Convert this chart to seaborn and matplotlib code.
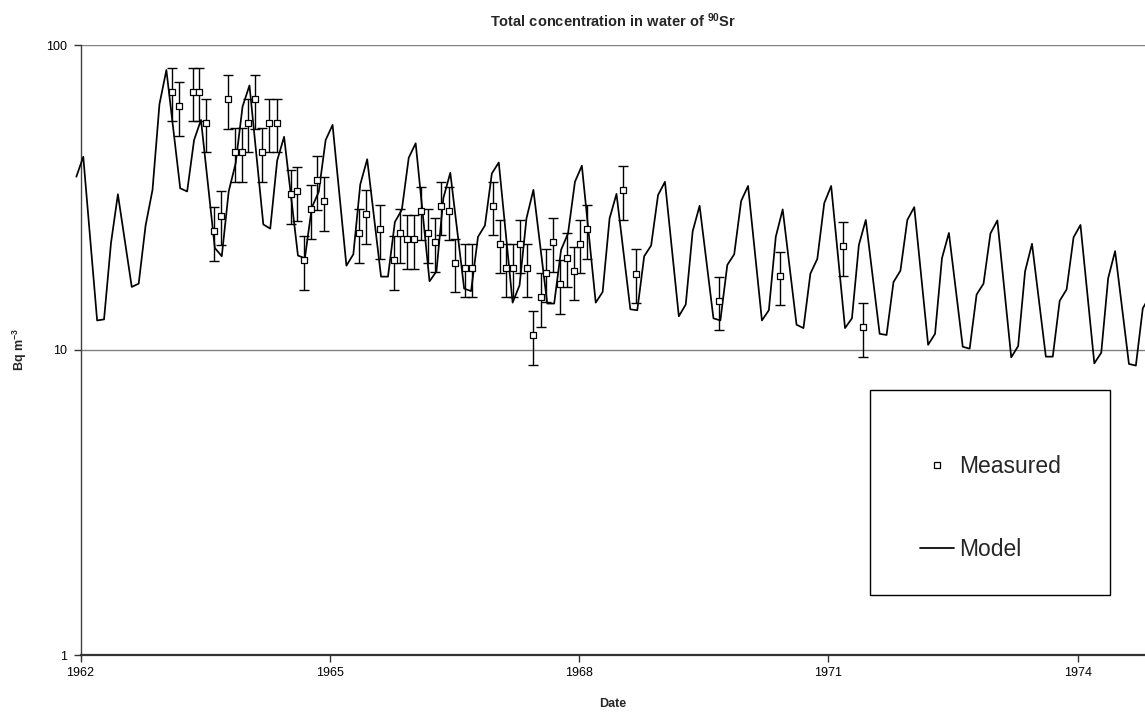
import numpy as np
import pandas as pd
import matplotlib
matplotlib.use("Agg")
import matplotlib.pyplot as plt
import seaborn as sns
from matplotlib.lines import Line2D
from matplotlib.patches import Rectangle
from matplotlib.ticker import NullLocator, FixedLocator, FixedFormatter

# ---------------- data ----------------
title_text = r"Total concentration in water of $\mathbf{^{90}}$Sr"
x_label = "Date"
y_label = r"Bq m$\mathbf{^{-3}}$"
x_ticks = [1962, 1965, 1968, 1971, 1974]
y_ticks = [1, 10, 100]
y_tick_labels = ["1", "10", "100"]
legend_labels = ["Measured", "Model"]

# model output months (Feb and Jul are not plotted)
model_years = list(range(1962, 1975))
model_month_numbers = [1, 3, 4, 5, 6, 8, 9, 10, 11, 12]
model_values = [
    37.0,                                                          # 1961-12
    43.0, 12.5, 12.6, 22.4, 32.4, 16.1, 16.5, 25.6, 33.5, 63.9,   # 1962
    82.8, 33.9, 33.1, 48.8, 56.8, 21.6, 20.3, 33.1, 40.9, 62.8,   # 1963
    73.7, 25.8, 25.0, 41.8, 50.0, 20.4, 20.0, 29.3, 33.0, 48.8,   # 1964
    54.7, 18.9, 20.6, 34.9, 42.2, 17.4, 17.4, 26.3, 28.8, 42.7,   # 1965
    47.6, 16.8, 18.1, 31.5, 38.1, 15.9, 15.6, 23.5, 25.6, 37.9,   # 1966
    41.2, 14.3, 16.3, 27.0, 33.5, 14.2, 14.2, 21.3, 24.1, 35.6,   # 1967
    40.2, 14.3, 15.5, 27.0, 32.5, 13.6, 13.5, 20.3, 22.0, 32.2,   # 1968
    35.6, 12.9, 14.1, 24.5, 29.7, 12.7, 12.5, 19.0, 20.6, 30.8,   # 1969
    34.5, 12.5, 13.5, 23.5, 28.9, 12.1, 11.8, 17.8, 19.9, 30.3,   # 1970
    34.5, 11.8, 12.7, 22.1, 26.7, 11.3, 11.2, 16.7, 18.2, 26.7,   # 1971
    29.4, 10.4, 11.3, 20.0, 24.2, 10.25, 10.1, 15.2, 16.5, 24.1,  # 1972
    26.6, 9.46, 10.3, 18.1, 22.3, 9.51, 9.51, 14.5, 15.8, 23.4,   # 1973
    25.7, 9.04, 9.8, 17.2, 21.1, 9.0, 8.89, 13.7, 15.0,           # 1974
]

meas_year = [
    1963.10, 1963.19, 1963.35, 1963.43, 1963.51, 1963.61, 1963.69, 1963.77,
    1963.86, 1963.94, 1964.02, 1964.10, 1964.18, 1964.27, 1964.37, 1964.53,
    1964.61, 1964.69, 1964.77, 1964.85, 1964.93, 1965.35, 1965.43, 1965.61,
    1965.77, 1965.85, 1965.93, 1966.01, 1966.10, 1966.18, 1966.27, 1966.34,
    1966.43, 1966.51, 1966.63, 1966.71, 1966.96, 1967.05, 1967.12, 1967.21,
    1967.29, 1967.37, 1967.45, 1967.54, 1967.60, 1967.69, 1967.77, 1967.85,
    1967.94, 1968.01, 1968.09, 1968.53, 1968.69, 1969.68, 1970.42, 1971.18,
    1971.42,
]
meas_value = [
    70.3, 63.1, 70.3, 70.3, 55.6, 24.5, 27.6, 66.5,
    44.5, 44.5, 55.6, 66.5, 44.5, 55.6, 55.6, 32.4,
    33.1, 19.7, 29.0, 36.1, 30.8, 24.1, 27.9, 24.9,
    19.7, 24.1, 23.1, 23.1, 28.6, 24.1, 22.6, 29.7,
    28.6, 19.3, 18.6, 18.6, 29.7, 22.3, 18.6, 18.6,
    22.3, 18.6, 11.2, 14.9, 17.9, 22.6, 16.4, 20.1,
    18.2, 22.3, 24.9, 33.4, 17.8, 14.5, 17.5, 21.9,
    11.9,
]
meas_rel_error = 0.2

# ---------------- build tables ----------------
model_dates = ["1961-12"] + [f"{y}-{m:02d}" for y in model_years for m in model_month_numbers]
model_dates = model_dates[:len(model_values)]
model_df = pd.DataFrame({"date": model_dates, "value": model_values})
model_df["t"] = [int(d[:4]) + (int(d[5:]) - 0.6) / 12.0 for d in model_df["date"]]

meas_df = pd.DataFrame({"t": meas_year, "value": meas_value})
meas_df["err"] = meas_df["value"] * meas_rel_error

# ---------------- style ----------------
sns.set_style("white")
plt.rcParams["font.family"] = ["Liberation Sans", "DejaVu Sans"]
plt.rcParams["mathtext.fontset"] = "custom"
plt.rcParams["mathtext.rm"] = "Liberation Sans"
plt.rcParams["mathtext.bf"] = "Liberation Sans:bold"
plt.rcParams["mathtext.default"] = "regular"

W, H = 1145, 715
fig = plt.figure(figsize=(W / 100, H / 100), dpi=100)
ax_left, ax_right, ax_top, ax_bottom = 80.5, 1145, 45, 655
ax = fig.add_axes([ax_left / W, 1 - ax_bottom / H, (ax_right - ax_left) / W, (ax_bottom - ax_top) / H])

px_per_year = 83.1
ax.set_xlim(1962, 1962 + (ax_right - ax_left) / px_per_year)
ax.set_yscale("log")
ax.set_ylim(1, 100)

# model line
sns.lineplot(data=model_df, x="t", y="value", ax=ax, color="black", linewidth=1.25,
             estimator=None, sort=False, legend=False, zorder=3)
for ln in ax.get_lines():
    ln.set_clip_on(False)

# measured with error bars
ax.errorbar(meas_df["t"], meas_df["value"], yerr=meas_df["err"], fmt="none",
            ecolor="black", elinewidth=1.0, capsize=3.3, capthick=1.0, zorder=4)
sns.scatterplot(data=meas_df, x="t", y="value", ax=ax, marker="s", s=23,
                color="white", edgecolor="black", linewidth=0.9, zorder=5, legend=False)

# axes styling
ax.yaxis.set_major_locator(FixedLocator(y_ticks))
ax.yaxis.set_major_formatter(FixedFormatter(y_tick_labels))
ax.yaxis.set_minor_locator(NullLocator())
ax.set_xticks(x_ticks)
ax.set_xticklabels([str(x) for x in x_ticks])
ax.xaxis.set_minor_locator(NullLocator())
ax.grid(axis="y", which="major", color="#808080", linewidth=1.0)
ax.grid(axis="x", visible=False)
for s in ["top", "right"]:
    ax.spines[s].set_visible(False)
ax.spines["left"].set_color("#404040")
ax.spines["left"].set_linewidth(1.0)
ax.spines["bottom"].set_color("#333333")
ax.spines["bottom"].set_linewidth(1.6)
ax.tick_params(axis="both", which="major", direction="out", length=5, width=1,
               color="#333333", labelsize=9, labelcolor="black")
ax.tick_params(axis="y", pad=5)
ax.tick_params(axis="x", pad=4, bottom=True)
ax.tick_params(axis="y", left=True)

ax.set_title(title_text, fontsize=10.5, fontweight="bold", pad=13)
ax.set_xlabel(x_label, fontsize=9, fontweight="bold", labelpad=13)
ax.set_ylabel(y_label, fontsize=9, fontweight="bold", labelpad=12)

# legend
box_x0 = (870 - ax_left) / (ax_right - ax_left)
box_x1 = (1110 - ax_left) / (ax_right - ax_left)
box_y0 = (ax_bottom - 595) / (ax_bottom - ax_top)
box_y1 = (ax_bottom - 390) / (ax_bottom - ax_top)
ax.add_patch(Rectangle((box_x0, box_y0), box_x1 - box_x0, box_y1 - box_y0,
                       transform=ax.transAxes, facecolor="white", edgecolor="black",
                       linewidth=1.0, zorder=8, clip_on=False))
handles = [
    Line2D([], [], marker="s", linestyle="none", markerfacecolor="white",
           markeredgecolor="black", markersize=4.5, markeredgewidth=0.9),
    Line2D([], [], color="black", linewidth=1.25),
]
leg = ax.legend(handles, legend_labels, loc="center left",
                bbox_to_anchor=((920 - ax_left) / (ax_right - ax_left),
                                (ax_bottom - 508) / (ax_bottom - ax_top)),
                frameon=False, fontsize=16.5, labelspacing=2.63, handlelength=1.5,
                handletextpad=0.2, borderpad=0, borderaxespad=0)
leg.set_zorder(9)

fig.savefig("out.png", dpi=100)
